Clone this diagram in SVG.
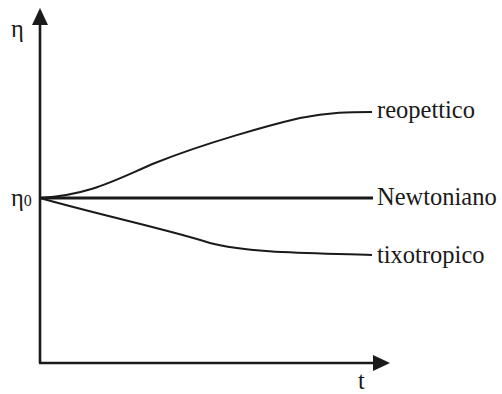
<svg xmlns="http://www.w3.org/2000/svg" width="502" height="394" viewBox="0 0 502 394">
<style>
.lbl{font-family:"Liberation Serif","Times New Roman",serif;font-size:24.5px;fill:#1a1a1a}
.ax{stroke:#1a1a1a;stroke-width:2.6;fill:none}
.cv{stroke:#1a1a1a;stroke-width:2;fill:none}
.ah{fill:#1a1a1a}
</style>
<rect width="502" height="394" fill="#ffffff"/>
<g id="axes">
<line class="ax" x1="40" y1="363" x2="40" y2="22"/>
<polygon class="ah" points="40,8 32,25 48,25"/>
<line class="ax" x1="39" y1="363" x2="376" y2="363"/>
<polygon class="ah" points="390,363 373,355 373,371"/>
</g>
<g id="connectors">
<path id="reopettico-curve" class="cv" d="M40,198 C90,195 115,180 155,163 C205,143 270,125 300,118 C330,112 350,112 372,112"/>
<line id="newtoniano-line" x1="40" y1="198" x2="373" y2="198" stroke="#1a1a1a" stroke-width="3"/>
<path id="tixotropico-curve" class="cv" d="M40,198 C100,215 170,230 210,243 C250,254 330,253 372,255"/>
</g>
<g id="label-eta"><text class="lbl" x="11" y="37">η</text></g>
<g id="label-eta0"><text class="lbl" x="11" y="206">η<tspan font-size="16">0</tspan></text></g>
<g id="label-t"><text class="lbl" x="358" y="389">t</text></g>
<g id="node-reopettico"><text class="lbl" x="377" y="118">reopettico</text></g>
<g id="node-newtoniano"><text class="lbl" x="377" y="205">Newtoniano</text></g>
<g id="node-tixotropico"><text class="lbl" x="377" y="263">tixotropico</text></g>
</svg>
